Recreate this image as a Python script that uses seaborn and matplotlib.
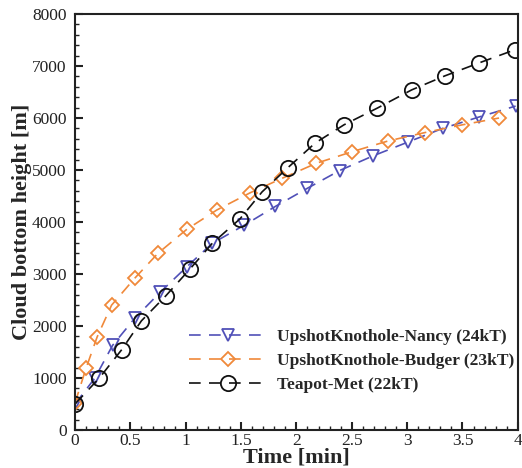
import matplotlib
matplotlib.use("Agg")
import matplotlib.pyplot as plt
import seaborn as sns
import pandas as pd
from matplotlib.ticker import MultipleLocator, FormatStrFormatter

sns.set_style("white")
plt.rcParams['font.family'] = ['Liberation Serif', 'DejaVu Serif']

nancy_t = [0, 0.18, 0.34, 0.54, 0.77, 1.01, 1.24, 1.53, 1.81, 2.1, 2.39, 2.69, 3.01, 3.32, 3.65, 3.98]
nancy_h = [500, 1000, 1630, 2150, 2650, 3140, 3590, 3940, 4300, 4650, 4990, 5270, 5540, 5800, 6020, 6230]

budger_t = [0, 0.1, 0.2, 0.33, 0.54, 0.75, 1.01, 1.28, 1.58, 1.87, 2.18, 2.5, 2.83, 3.16, 3.5, 3.83]
budger_h = [520, 1190, 1790, 2400, 2920, 3400, 3860, 4230, 4560, 4840, 5130, 5350, 5560, 5720, 5870, 6000]

teapot_t = [0, 0.22, 0.42, 0.6, 0.82, 1.04, 1.24, 1.49, 1.69, 1.92, 2.17, 2.43, 2.73, 3.04, 3.34, 3.65, 3.97]
teapot_h = [500, 1000, 1540, 2100, 2580, 3100, 3590, 4060, 4580, 5040, 5520, 5870, 6190, 6540, 6810, 7060, 7310]

labels = ["UpshotKnothole-Nancy (24kT)", "UpshotKnothole-Budger (23kT)", "Teapot-Met (22kT)"]
colors = ["#5050b8", "#f0893a", "#111111"]
markers = ["v", "D", "o"]
msizes = [8, 7.5, 11]

fig = plt.figure(figsize=(5.22, 4.68), dpi=100)
ax = fig.add_axes([0.1437, 0.0812, 0.8483, 0.8888])

series = [(nancy_t, nancy_h), (budger_t, budger_h), (teapot_t, teapot_h)]
for (t, h), lab, c, m, ms in zip(series, labels, colors, markers, msizes):
    df = pd.DataFrame({"t": t, "h": h})
    sns.lineplot(data=df, x="t", y="h", ax=ax, color=c, label=lab,
                 marker=m, markersize=ms, markerfacecolor="none",
                 markeredgecolor=c, markeredgewidth=1.3, linewidth=1.2,
                 linestyle=(0, (7, 5)), sort=False)

ax.set_xlim(0, 4)
ax.set_ylim(0, 8000)
ax.xaxis.set_major_locator(MultipleLocator(0.5))
ax.xaxis.set_minor_locator(MultipleLocator(0.1))
ax.xaxis.set_major_formatter(FormatStrFormatter("%g"))
ax.yaxis.set_major_locator(MultipleLocator(1000))
ax.yaxis.set_minor_locator(MultipleLocator(200))
ax.tick_params(which="major", direction="in", length=6, width=1.5, labelsize=12.5,
               bottom=True, left=True, top=False, right=False, colors="#222222")
ax.tick_params(axis="x", which="major", pad=2)
ax.tick_params(axis="y", which="major", pad=6)
ax.tick_params(which="minor", direction="in", length=3, width=1.0,
               bottom=True, left=True, top=False, right=False, colors="#222222")
for s in ax.spines.values():
    s.set_linewidth(1.5)
    s.set_color("#222222")

ax.set_xlabel("Time [min]", fontsize=16, fontweight="bold", labelpad=-1)
ax.set_ylabel("Cloud bottom height [m]", fontsize=16, fontweight="bold", labelpad=0)

leg = ax.legend(loc="lower right", bbox_to_anchor=(1.0, 0.08), borderaxespad=0,
                borderpad=0.2, frameon=False,
                prop={"weight": "bold", "size": 12.5, "family": "Liberation Serif"},
                handlelength=4.6, handletextpad=0.5, labelspacing=0.45)

fig.savefig("out.png", dpi=100)
